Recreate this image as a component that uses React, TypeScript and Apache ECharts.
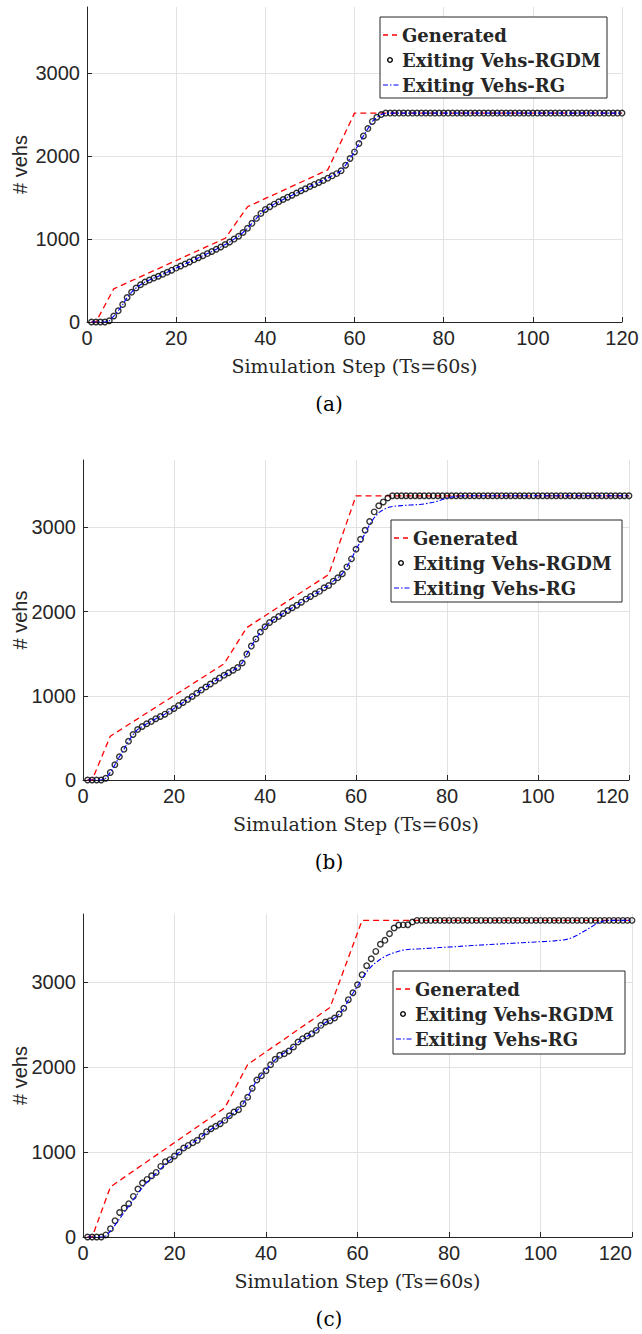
import React, { useEffect, useRef } from "react";
import * as echarts from "echarts";

// x positions: simulation steps 1..120
const steps: number[] = Array.from({ length: 120 }, (_, i) => i + 1);

// ---------- panel (a) ----------
const genAX = [1, 2, 6, 31, 36, 54, 60, 120];
const genAY = [0, 0, 400, 1010, 1390, 1835, 2520, 2520];
const rgdmA = [
  0, 0, 0, 0, 15, 72, 135, 210, 295, 360,
  410, 450, 482, 506, 530, 552, 576, 600, 625, 650,
  675, 700, 725, 750, 775, 800, 825, 850, 878, 905,
  935, 965, 1000, 1035, 1080, 1130, 1190, 1250, 1310, 1358,
  1390, 1422, 1450, 1478, 1506, 1530, 1555, 1583, 1607, 1635,
  1660, 1683, 1707, 1735, 1763, 1790, 1825, 1892, 1972, 2052,
  2153, 2245, 2333, 2420, 2470, 2502, 2520, 2520, 2520, 2520,
  2520, 2520, 2520, 2520, 2520, 2520, 2520, 2520, 2520, 2520,
  2520, 2520, 2520, 2520, 2520, 2520, 2520, 2520, 2520, 2520,
  2520, 2520, 2520, 2520, 2520, 2520, 2520, 2520, 2520, 2520,
  2520, 2520, 2520, 2520, 2520, 2520, 2520, 2520, 2520, 2520,
  2520, 2520, 2520, 2520, 2520, 2520, 2520, 2520, 2520, 2520,
];
const rgA = [
  0, 0, 0, 0, 15, 72, 135, 210, 295, 360,
  410, 450, 482, 506, 530, 552, 576, 600, 625, 650,
  675, 700, 725, 750, 775, 800, 825, 850, 878, 905,
  935, 965, 1000, 1035, 1080, 1130, 1190, 1250, 1310, 1358,
  1390, 1422, 1450, 1478, 1506, 1530, 1555, 1583, 1607, 1635,
  1660, 1683, 1707, 1735, 1763, 1790, 1825, 1892, 1972, 2052,
  2153, 2245, 2333, 2420, 2470, 2502, 2520, 2520, 2520, 2520,
  2520, 2520, 2520, 2520, 2520, 2520, 2520, 2520, 2520, 2520,
  2520, 2520, 2520, 2520, 2520, 2520, 2520, 2520, 2520, 2520,
  2520, 2520, 2520, 2520, 2520, 2520, 2520, 2520, 2520, 2520,
  2520, 2520, 2520, 2520, 2520, 2520, 2520, 2520, 2520, 2520,
  2520, 2520, 2520, 2520, 2520, 2520, 2520, 2520, 2520, 2520,
];

// ---------- panel (b) ----------
const genBX = [1, 2, 6, 31, 36, 54, 60, 120];
const genBY = [0, 0, 520, 1380, 1810, 2440, 3375, 3375];
const rgdmB = [
  0, 0, 0, 0, 20, 90, 180, 275, 365, 460,
  540, 600, 635, 668, 695, 728, 755, 782, 815, 850,
  885, 920, 955, 992, 1030, 1068, 1105, 1140, 1175, 1210,
  1243, 1273, 1303, 1335, 1390, 1495, 1590, 1675, 1758, 1820,
  1870, 1905, 1942, 1977, 2013, 2045, 2076, 2112, 2148, 2180,
  2211, 2240, 2282, 2310, 2361, 2401, 2449, 2531, 2626, 2740,
  2859, 2966, 3069, 3184, 3256, 3302, 3349, 3375, 3375, 3375,
  3375, 3375, 3375, 3375, 3375, 3375, 3375, 3375, 3375, 3375,
  3375, 3375, 3375, 3375, 3375, 3375, 3375, 3375, 3375, 3375,
  3375, 3375, 3375, 3375, 3375, 3375, 3375, 3375, 3375, 3375,
  3375, 3375, 3375, 3375, 3375, 3375, 3375, 3375, 3375, 3375,
  3375, 3375, 3375, 3375, 3375, 3375, 3375, 3375, 3375, 3375,
];
const rgB = [
  0, 0, 0, 0, 20, 90, 180, 275, 365, 460,
  540, 600, 635, 668, 695, 728, 755, 782, 815, 850,
  885, 920, 955, 992, 1030, 1068, 1105, 1140, 1175, 1210,
  1243, 1273, 1303, 1335, 1390, 1495, 1590, 1675, 1758, 1820,
  1870, 1905, 1942, 1977, 2013, 2045, 2076, 2112, 2148, 2180,
  2211, 2240, 2282, 2310, 2361, 2401, 2449, 2531, 2626, 2740,
  2830, 2925, 3035, 3115, 3175, 3210, 3235, 3248, 3254, 3258,
  3262, 3265, 3268, 3272, 3278, 3287, 3298, 3312, 3330, 3347,
  3360, 3368, 3373, 3375, 3375, 3375, 3375, 3375, 3375, 3375,
  3375, 3375, 3375, 3375, 3375, 3375, 3375, 3375, 3375, 3375,
  3375, 3375, 3375, 3375, 3375, 3375, 3375, 3375, 3375, 3375,
  3375, 3375, 3375, 3375, 3375, 3375, 3375, 3375, 3375, 3375,
];

// ---------- panel (c) ----------
const genCX = [1, 2, 6, 31, 36, 54, 61, 120];
const genCY = [0, 0, 590, 1520, 2030, 2700, 3725, 3725];
const rgdmC = [
  0, 0, 0, 0, 25, 98, 192, 288, 340, 392,
  478, 564, 635, 678, 721, 760, 831, 886, 910, 953,
  1000, 1047, 1078, 1110, 1137, 1184, 1239, 1274, 1302, 1333,
  1372, 1427, 1470, 1498, 1568, 1643, 1750, 1847, 1898, 1956,
  2027, 2090, 2137, 2156, 2188, 2235, 2294, 2333, 2364, 2392,
  2431, 2490, 2529, 2545, 2576, 2623, 2690, 2792, 2874, 2968,
  3086, 3192, 3274, 3360, 3443, 3490, 3568, 3635, 3670, 3672,
  3674, 3706, 3725, 3725, 3725, 3725, 3725, 3725, 3725, 3725,
  3725, 3725, 3725, 3725, 3725, 3725, 3725, 3725, 3725, 3725,
  3725, 3725, 3725, 3725, 3725, 3725, 3725, 3725, 3725, 3725,
  3725, 3725, 3725, 3725, 3725, 3725, 3725, 3725, 3725, 3725,
  3725, 3725, 3725, 3725, 3725, 3725, 3725, 3725, 3725, 3725,
];
const rgC = [
  0, 0, 0, 0, 10, 70, 140, 215, 290, 365,
  440, 515, 585, 645, 700, 752, 805, 855, 905, 950,
  995, 1040, 1078, 1112, 1145, 1185, 1230, 1268, 1302, 1335,
  1375, 1420, 1462, 1505, 1570, 1650, 1750, 1845, 1905, 1965,
  2025, 2085, 2130, 2165, 2200, 2240, 2290, 2330, 2362, 2392,
  2432, 2485, 2525, 2548, 2578, 2622, 2685, 2785, 2868, 2950,
  3040, 3120, 3182, 3230, 3268, 3300, 3325, 3345, 3362, 3375,
  3382, 3386, 3389, 3392, 3395, 3398, 3402, 3405, 3408, 3411,
  3414, 3418, 3422, 3426, 3429, 3432, 3435, 3438, 3441, 3444,
  3447, 3450, 3453, 3456, 3459, 3462, 3465, 3468, 3471, 3474,
  3477, 3480, 3484, 3489, 3495, 3505, 3525, 3550, 3580, 3612,
  3645, 3678, 3705, 3720, 3725, 3725, 3725, 3725, 3725, 3725,
];

// axis settings
const xMin = 0, xMax = 120, xStep = 20;
const yMin = 0, yMax = 3800, yStep = 1000;

const xLabel = "Simulation Step (Ts=60s)";
const yLabel = "# vehs";
const legendNames = ["Generated", "Exiting Vehs-RGDM", "Exiting Vehs-RG"];
const captions = ["(a)", "(b)", "(c)"];

const panels = [
  { gx: genAX, gy: genAY, dm: rgdmA, rg: rgA },
  { gx: genBX, gy: genBY, dm: rgdmB, rg: rgB },
  { gx: genCX, gy: genCY, dm: rgdmC, rg: rgC },
];

// layout (pixels)
const grids = [
  { left: 87, top: 7, width: 535, height: 315 },
  { left: 83, top: 460, width: 546, height: 320 },
  { left: 83, top: 914, width: 549, height: 323 },
];
const lastLabelAlign = ["center", "right", "right"];
const legendBoxes = [
  { x: 380, y: 17, w: 227, h: 81 },
  { x: 391, y: 520, w: 231, h: 82 },
  { x: 393, y: 971, w: 232, h: 83 },
];

const AXIS_COLOR = "#262626";
const GRID_COLOR = "#e2e2e2";
const TICK_FONT = "'Liberation Sans', Arial, sans-serif";
const SERIF = "'DejaVu Serif', serif";

export default function App() {
  const ref = useRef<HTMLDivElement>(null);

  useEffect(() => {
    document.body.style.margin = "0";
    if (!ref.current) return;
    const chart = echarts.init(ref.current, null, { renderer: "svg" });

    const xAxes: any[] = [];
    const yAxes: any[] = [];
    const series: any[] = [];
    const graphics: any[] = [];

    panels.forEach((p, i) => {
      xAxes.push({
        gridIndex: i,
        type: "value",
        min: xMin,
        max: xMax,
        interval: xStep,
        axisLine: { show: true, onZero: false, lineStyle: { color: AXIS_COLOR, width: 1 } },
        axisTick: { show: true, inside: true, length: 5, lineStyle: { color: AXIS_COLOR } },
        axisLabel: {
          color: AXIS_COLOR,
          fontFamily: TICK_FONT,
          fontSize: 20,
          margin: 6,
          alignMaxLabel: lastLabelAlign[i],
        },
        splitLine: { show: true, lineStyle: { color: GRID_COLOR, width: 1 } },
      });
      yAxes.push({
        gridIndex: i,
        type: "value",
        min: yMin,
        max: yMax,
        interval: yStep,
        axisLine: { show: true, onZero: false, lineStyle: { color: AXIS_COLOR, width: 1 } },
        axisTick: { show: true, inside: true, length: 5, lineStyle: { color: AXIS_COLOR } },
        axisLabel: {
          color: AXIS_COLOR,
          fontFamily: TICK_FONT,
          fontSize: 20,
          margin: 7,
          showMaxLabel: false,
          formatter: (v: number) => (v % yStep === 0 ? String(v) : ""),
        },
        splitLine: { show: true, showMaxLine: false, lineStyle: { color: GRID_COLOR, width: 1 } },
      });

      series.push({
        name: legendNames[0],
        type: "line",
        xAxisIndex: i,
        yAxisIndex: i,
        data: p.gx.map((x, k) => [x, p.gy[k]]),
        showSymbol: false,
        symbol: "none",
        lineStyle: { color: "#ff0000", width: 1.3, type: [6, 4] },
        z: 2,
      });
      series.push({
        name: legendNames[1],
        type: "scatter",
        xAxisIndex: i,
        yAxisIndex: i,
        data: steps.map((s, k) => [s, p.dm[k]]),
        symbol: "circle",
        symbolSize: 5.5,
        itemStyle: { color: "rgba(0,0,0,0)", borderColor: "#000000", borderWidth: 1.4 },
        z: 3,
      });
      series.push({
        name: legendNames[2],
        type: "line",
        xAxisIndex: i,
        yAxisIndex: i,
        data: steps.map((s, k) => [s, p.rg[k]]),
        showSymbol: false,
        symbol: "none",
        lineStyle: { color: "#0000ff", width: 1.1, type: [5, 2, 1.5, 2] },
        z: 4,
      });

      const g = grids[i];
      graphics.push({
        type: "text",
        x: 20,
        y: g.top + g.height / 2,
        rotation: Math.PI / 2,
        style: {
          text: yLabel,
          fill: AXIS_COLOR,
          font: `20px ${TICK_FONT}`,
          align: "center",
          verticalAlign: "middle",
        },
        z: 10,
      });
      graphics.push({
        type: "text",
        x: g.left + g.width / 2,
        y: g.top + g.height + 44,
        style: {
          text: xLabel,
          fill: AXIS_COLOR,
          font: `19px ${SERIF}`,
          align: "center",
          verticalAlign: "middle",
        },
        z: 10,
      });
      graphics.push({
        type: "text",
        x: 329,
        y: g.top + g.height + 82,
        style: {
          text: captions[i],
          fill: "#000000",
          font: `20px ${SERIF}`,
          align: "center",
          verticalAlign: "middle",
        },
        z: 10,
      });

      const b = legendBoxes[i];
      graphics.push({
        type: "rect",
        shape: { x: b.x, y: b.y, width: b.w, height: b.h },
        style: { fill: "#ffffff", stroke: AXIS_COLOR, lineWidth: 1 },
        z: 20,
      });
      const rows = [b.y + 18, b.y + 43, b.y + 68];
      graphics.push({
        type: "line",
        shape: { x1: b.x + 3, y1: rows[0], x2: b.x + 17, y2: rows[0] },
        style: { stroke: "#ff0000", lineWidth: 1.3, lineDash: [5, 4] },
        z: 21,
      });
      graphics.push({
        type: "circle",
        shape: { cx: b.x + 10, cy: rows[1], r: 2.3 },
        style: { fill: "none", stroke: "#000000", lineWidth: 1.4 },
        z: 21,
      });
      graphics.push({
        type: "line",
        shape: { x1: b.x + 3, y1: rows[2], x2: b.x + 19, y2: rows[2] },
        style: { stroke: "#0000ff", lineWidth: 1.1, lineDash: [5, 2, 1.5, 2] },
        z: 21,
      });
      legendNames.forEach((n, k) => {
        graphics.push({
          type: "text",
          x: b.x + 22,
          y: rows[k],
          style: {
            text: n,
            fill: "#262626",
            font: `bold 18px ${SERIF}`,
            align: "left",
            verticalAlign: "middle",
          },
          z: 21,
        });
      });
    });

    chart.setOption({
      animation: false,
      backgroundColor: "#ffffff",
      grid: grids.map((g) => ({ ...g, containLabel: false, outerBoundsMode: "none" })),
      xAxis: xAxes,
      yAxis: yAxes,
      series,
      graphic: graphics,
    });

    return () => chart.dispose();
  }, []);

  return <div ref={ref} style={{ width: 642, height: 1334 }} />;
}
